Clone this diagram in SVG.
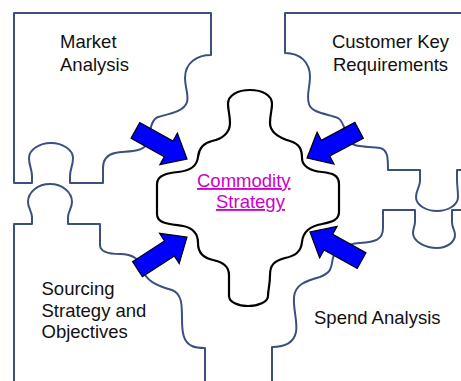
<svg xmlns="http://www.w3.org/2000/svg" width="461" height="381" viewBox="0 0 461 381">
  <style>
    .piece { fill: none; stroke: #3C5080; stroke-width: 2; stroke-linejoin: round; }
    .core { fill: none; stroke: #000; stroke-width: 2.2; stroke-linejoin: round; }
    .arrow { fill: #0000FF; stroke: #000; stroke-width: 1.2; stroke-linejoin: miter; }
    .label { font-family: "Liberation Sans", Arial, sans-serif; font-size: 18.5px; fill: #111; }
    .link { font-family: "Liberation Sans", Arial, sans-serif; font-size: 18.5px; fill: #CC00CC; text-decoration: underline; }
  </style>
  <defs>
    <!-- block arrow, tip at the origin, pointing along +x -->
    <polygon id="blockArrow" class="arrow" points="0,0 -21,-18 -21,-9 -59,-9 -59,9 -21,9 -21,18"/>
  </defs>

  <rect width="461" height="381" fill="#fff"/>

  <g id="market-analysis">
    <path class="piece" d="M14,13 H211 V55 C198,55 185,62 185,78 C185,88 189,95 187,102 C184,112 168,114 158,117 C150,120 150,135 146,145 C142,152 128,151 115,153 C106,155 103,160 103,168 V183 H70 V176 C70,169 73,166 73,158 C73,150 63,143 51,143 C39,143 29,150 29,158 C29,166 32,169 32,176 V183 H14 Z"/>
    <text class="label" x="60" y="48">Market</text>
    <text class="label" x="60" y="71">Analysis</text>
  </g>

  <g id="customer-key-requirements">
    <path class="piece" d="M461,13 H285 V53 C300,53 310,62 310,77 C310,88 306,95 309,104 C312,114 330,114 338,118 C345,122 345,135 350,142 C354,148 370,146 380,148 C388,150 388,158 388,170 H420 V181 C420,187 416,190 416,197 C416,205 426,211 437,211 C448,211 458,205 458,197 C458,190 457,186 457,179 V170 H461"/>
    <text class="label" x="390.5" y="48" text-anchor="middle">Customer Key</text>
    <text class="label" x="390.5" y="71" text-anchor="middle">Requirements</text>
  </g>

  <g id="sourcing-strategy">
    <path class="piece" d="M14,381 V224 H32 V217 C32,212 28,208 28,202 C28,192 38,184 50,184 C62,184 72,192 72,202 C72,208 68,212 68,217 V224 H100 V245 C100,252 108,254 120,254 C132,254 140,258 143,270 C146,282 160,287 172,290 C182,294 182,305 182,318 C182,332 183,342 192,346 C196,348 200,348 205,348 V381"/>
    <text class="label" x="41.5" y="295">Sourcing</text>
    <text class="label" x="41.5" y="316.5">Strategy and</text>
    <text class="label" x="41.5" y="338">Objectives</text>
  </g>

  <g id="spend-analysis">
    <path class="piece" d="M461,210 H452 V222 C452,228 455,230 455,235 C455,242 447,248 437,248 C426,248 413,242 413,233 C413,228 415,226 415,222 V210 H383 V228 C383,240 375,242 360,243 C345,244 335,250 333,258 C331,266 333,272 320,277 C305,281 295,285 294,297 C293,310 298,322 296,332 C294,342 285,347 272,347 V381"/>
    <text class="label" x="314" y="324">Spend Analysis</text>
  </g>

  <g id="commodity-strategy">
    <path class="core" d="M230,123 C230,115 228,110 228,104 C228,95 238,90 250,90 C262,90 272,95 272,104 C272,110 270,115 270,123 C270,133 280,138 290,141 C300,144 302,150 302,158 C302,166 310,171 322,172 C332,173 339,175 339,184 V212 C339,220 332,222 322,224 C310,226 303,232 302,242 C301,252 295,256 285,258 C274,261 270,265 270,275 C270,285 268,290 268,296 C268,302 258,306 248,306 C238,306 229,302 229,296 C229,290 229,285 229,275 C229,266 223,262 213,260 C203,258 198,252 198,243 C198,234 193,228 183,226 C170,224 157,224 157,214 V184 C157,175 168,173 178,172 C190,171 197,166 198,157 C199,148 203,143 212,141 C222,139 230,133 230,123 Z"/>
    <text class="link" x="197" y="187">Commodity</text>
    <text class="link" x="216" y="208">Strategy</text>
  </g>

  <g id="connectors">
    <use href="#blockArrow" transform="translate(187,159) rotate(29)"/>
    <use href="#blockArrow" transform="translate(307,158) rotate(152)"/>
    <use href="#blockArrow" transform="translate(187,237) rotate(-33)"/>
    <use href="#blockArrow" transform="translate(310,232) rotate(209)"/>
  </g>
</svg>
